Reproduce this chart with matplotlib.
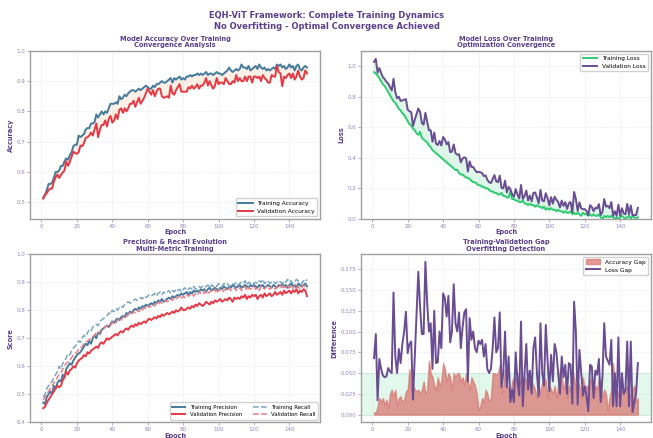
import numpy as np
import matplotlib
matplotlib.use("Agg")
import matplotlib.pyplot as plt

epochs = np.arange(1, 151)

train_acc = [
    0.515, 0.525, 0.54, 0.56, 0.56, 0.565, 0.58, 0.60, 0.60, 0.605,
    0.62, 0.62, 0.635, 0.645, 0.64, 0.655, 0.665, 0.685, 0.69, 0.69,
    0.72, 0.715, 0.72, 0.725, 0.74, 0.745, 0.745, 0.76, 0.76, 0.765,
    0.79, 0.78, 0.79, 0.80, 0.79, 0.80, 0.795, 0.81, 0.825, 0.825,
    0.825, 0.83, 0.825, 0.85, 0.84, 0.845, 0.855, 0.85, 0.86, 0.865,
    0.87, 0.87, 0.865, 0.87, 0.875, 0.87, 0.875, 0.88, 0.885, 0.88,
    0.875, 0.875, 0.885, 0.88, 0.89, 0.89, 0.895, 0.90, 0.895, 0.895,
    0.90, 0.905, 0.91, 0.895, 0.91, 0.905, 0.91, 0.915, 0.905, 0.91,
    0.905, 0.915, 0.915, 0.92, 0.915, 0.92, 0.92, 0.925, 0.92, 0.925,
    0.92, 0.925, 0.93, 0.92, 0.925, 0.925, 0.92, 0.925, 0.93, 0.925,
    0.925, 0.92, 0.925, 0.93, 0.935, 0.945, 0.935, 0.93, 0.935, 0.94,
    0.935, 0.94, 0.955, 0.945, 0.945, 0.94, 0.95, 0.935, 0.94, 0.945,
    0.95, 0.94, 0.955, 0.945, 0.94, 0.945, 0.935, 0.94, 0.935, 0.94,
    0.945, 0.94, 0.955, 0.95, 0.955, 0.945, 0.95, 0.94, 0.945, 0.955,
    0.945, 0.95, 0.935, 0.95, 0.955, 0.94, 0.935, 0.945, 0.95, 0.945,
]

acc_gap = [
    0.003, 0.002, 0.010, 0.020, 0.015, 0.020, 0.012, 0.018, 0.008, 0.025,
    0.030, 0.022, 0.030, 0.010, 0.020, 0.022, 0.015, 0.018, 0.028, 0.030,
    0.055, 0.028, 0.035, 0.030, 0.028, 0.030, 0.025, 0.030, 0.040, 0.025,
    0.030, 0.065, 0.050, 0.045, 0.035, 0.030, 0.045, 0.035, 0.040, 0.062,
    0.055, 0.040, 0.050, 0.045, 0.030, 0.050, 0.045, 0.050, 0.050, 0.040,
    0.045, 0.035, 0.050, 0.040, 0.030, 0.045, 0.040, 0.035, 0.025, 0.005,
    0.010, 0.020, 0.015, 0.030, 0.025, 0.015, 0.020, 0.050, 0.050, 0.048,
    0.050, 0.060, 0.025, 0.035, 0.055, 0.035, 0.030, 0.025, 0.040, 0.045,
    0.040, 0.050, 0.035, 0.045, 0.030, 0.045, 0.040, 0.035, 0.045, 0.040,
    0.035, 0.030, 0.020, 0.035, 0.025, 0.040, 0.045, 0.040, 0.020, 0.035,
    0.030, 0.025, 0.035, 0.020, 0.035, 0.055, 0.045, 0.030, 0.040, 0.020,
    0.035, 0.030, 0.055, 0.045, 0.030, 0.040, 0.035, 0.020, 0.045, 0.030,
    0.035, 0.030, 0.040, 0.045, 0.020, 0.035, 0.030, 0.045, 0.040, 0.020,
    0.030, 0.025, 0.005, 0.020, 0.030, 0.062, 0.035, 0.030, 0.025, 0.030,
    0.035, 0.025, 0.030, 0.035, 0.020, 0.025, 0.030, 0.035, 0.015, 0.020,
]

train_loss = [
    0.96, 0.95, 0.94, 0.92, 0.90, 0.88, 0.87, 0.85, 0.83, 0.81,
    0.79, 0.77, 0.76, 0.74, 0.72, 0.71, 0.69, 0.68, 0.66, 0.64,
    0.62, 0.61, 0.59, 0.58, 0.56, 0.55, 0.57, 0.53, 0.52, 0.51,
    0.50, 0.48, 0.47, 0.45, 0.44, 0.43, 0.42, 0.41, 0.40, 0.39,
    0.38, 0.37, 0.36, 0.35, 0.34, 0.33, 0.32, 0.32, 0.30, 0.29,
    0.29, 0.28, 0.27, 0.27, 0.26, 0.25, 0.24, 0.24, 0.23, 0.22,
    0.22, 0.21, 0.21, 0.20, 0.20, 0.19, 0.18, 0.18, 0.17, 0.17,
    0.16, 0.16, 0.17, 0.15, 0.15, 0.14, 0.14, 0.18, 0.13, 0.13,
    0.12, 0.12, 0.11, 0.11, 0.12, 0.10, 0.10, 0.09, 0.10, 0.09,
    0.09, 0.08, 0.09, 0.08, 0.08, 0.07, 0.08, 0.06, 0.07, 0.06,
    0.07, 0.06, 0.06, 0.05, 0.06, 0.05, 0.05, 0.04, 0.05, 0.04,
    0.04, 0.05, 0.03, 0.04, 0.03, 0.04, 0.03, 0.02, 0.04, 0.03,
    0.03, 0.02, 0.03, 0.02, 0.03, 0.02, 0.02, 0.03, 0.01, 0.00,
    0.02, 0.01, 0.02, 0.01, 0.02, 0.01, 0.00, 0.01, 0.00, 0.01,
    0.02, 0.01, 0.00, 0.01, 0.02, 0.00, 0.02, 0.01, 0.00, 0.01,
]

loss_gap = [
    0.068, 0.097, 0.017, 0.067, 0.055, 0.047, 0.045, 0.046, 0.056, 0.052,
    0.050, 0.147, 0.070, 0.050, 0.079, 0.062, 0.085, 0.100, 0.124, 0.074,
    0.085, 0.088, 0.018, 0.070, 0.125, 0.172, 0.130, 0.097, 0.097, 0.184,
    0.135, 0.100, 0.110, 0.055, 0.125, 0.062, 0.063, 0.100, 0.080, 0.146,
    0.140, 0.118, 0.143, 0.087, 0.100, 0.157, 0.110, 0.100, 0.123, 0.080,
    0.105, 0.123, 0.127, 0.040, 0.116, 0.090, 0.100, 0.080, 0.075, 0.089,
    0.085, 0.090, 0.070, 0.085, 0.055, 0.050, 0.055, 0.080, 0.117, 0.075,
    0.080, 0.123, 0.033, 0.050, 0.100, 0.033, 0.070, 0.015, 0.030, 0.015,
    0.075, 0.040, 0.023, 0.112, 0.010, 0.050, 0.085, 0.030, 0.053, 0.025,
    0.080, 0.093, 0.050, 0.022, 0.110, 0.050, 0.035, 0.108, 0.065, 0.028,
    0.072, 0.040, 0.085, 0.075, 0.050, 0.025, 0.070, 0.045, 0.060, 0.025,
    0.062, 0.060, 0.013, 0.136, 0.100, 0.012, 0.078, 0.050, 0.023, 0.034,
    0.022, 0.004, 0.060, 0.058, 0.020, 0.053, 0.048, 0.067, 0.015, 0.045,
    0.110, 0.070, 0.065, 0.060, 0.090, 0.010, 0.050, 0.010, 0.093, 0.010,
    0.050, 0.025, 0.030, 0.088, 0.010, 0.088, 0.003, 0.015, 0.025, 0.062,
]

train_prec = [
    0.47, 0.465, 0.49, 0.50, 0.51, 0.50, 0.53, 0.52, 0.54, 0.55,
    0.545, 0.57, 0.56, 0.59, 0.60, 0.61, 0.605, 0.62, 0.63, 0.64,
    0.645, 0.65, 0.66, 0.67, 0.68, 0.675, 0.69, 0.68, 0.70, 0.71,
    0.70, 0.72, 0.715, 0.73, 0.735, 0.74, 0.745, 0.74, 0.75, 0.76,
    0.755, 0.765, 0.77, 0.765, 0.775, 0.78, 0.775, 0.79, 0.785, 0.795,
    0.79, 0.80, 0.805, 0.80, 0.81, 0.805, 0.815, 0.81, 0.82, 0.815,
    0.82, 0.825, 0.82, 0.83, 0.825, 0.835, 0.83, 0.84, 0.83, 0.835,
    0.84, 0.845, 0.84, 0.85, 0.845, 0.85, 0.855, 0.85, 0.86, 0.855,
    0.86, 0.865, 0.855, 0.865, 0.86, 0.87, 0.865, 0.87, 0.865, 0.875,
    0.87, 0.875, 0.865, 0.875, 0.88, 0.87, 0.875, 0.88, 0.875, 0.87,
    0.88, 0.875, 0.885, 0.88, 0.875, 0.885, 0.88, 0.89, 0.885, 0.88,
    0.885, 0.89, 0.88, 0.885, 0.89, 0.885, 0.88, 0.89, 0.885, 0.89,
    0.885, 0.88, 0.89, 0.885, 0.89, 0.88, 0.885, 0.89, 0.885, 0.88,
    0.89, 0.885, 0.88, 0.89, 0.885, 0.895, 0.885, 0.89, 0.88, 0.89,
    0.895, 0.885, 0.89, 0.88, 0.895, 0.89, 0.885, 0.89, 0.895, 0.885,
]

train_rec = [
    0.49, 0.50, 0.52, 0.53, 0.54, 0.545, 0.56, 0.57, 0.58, 0.60,
    0.59, 0.61, 0.62, 0.63, 0.645, 0.64, 0.655, 0.665, 0.67, 0.68,
    0.69, 0.685, 0.70, 0.71, 0.705, 0.72, 0.73, 0.725, 0.74, 0.745,
    0.75, 0.745, 0.76, 0.765, 0.77, 0.775, 0.78, 0.79, 0.785, 0.80,
    0.795, 0.805, 0.80, 0.81, 0.815, 0.81, 0.82, 0.825, 0.83, 0.825,
    0.83, 0.835, 0.84, 0.835, 0.84, 0.845, 0.84, 0.85, 0.845, 0.85,
    0.855, 0.85, 0.855, 0.86, 0.85, 0.86, 0.865, 0.855, 0.865, 0.86,
    0.865, 0.87, 0.86, 0.87, 0.865, 0.875, 0.87, 0.875, 0.865, 0.875,
    0.88, 0.87, 0.875, 0.88, 0.875, 0.885, 0.875, 0.88, 0.885, 0.88,
    0.885, 0.88, 0.885, 0.89, 0.88, 0.89, 0.885, 0.89, 0.885, 0.895,
    0.89, 0.885, 0.895, 0.89, 0.895, 0.885, 0.89, 0.895, 0.89, 0.90,
    0.89, 0.895, 0.90, 0.895, 0.905, 0.89, 0.90, 0.895, 0.90, 0.895,
    0.90, 0.895, 0.905, 0.90, 0.91, 0.895, 0.90, 0.905, 0.895, 0.90,
    0.905, 0.895, 0.90, 0.905, 0.90, 0.895, 0.905, 0.90, 0.91, 0.90,
    0.905, 0.895, 0.90, 0.91, 0.905, 0.90, 0.895, 0.905, 0.90, 0.91,
]

val_prec = [
    0.45, 0.455, 0.47, 0.48, 0.49, 0.50, 0.51, 0.52, 0.53, 0.525,
    0.53, 0.55, 0.56, 0.58, 0.57, 0.585, 0.59, 0.60, 0.595, 0.61,
    0.62, 0.625, 0.63, 0.64, 0.635, 0.65, 0.645, 0.655, 0.66, 0.665,
    0.67, 0.665, 0.68, 0.685, 0.68, 0.69, 0.70, 0.695, 0.70, 0.705,
    0.71, 0.715, 0.71, 0.72, 0.725, 0.72, 0.73, 0.735, 0.73, 0.74,
    0.745, 0.74, 0.75, 0.745, 0.755, 0.75, 0.755, 0.76, 0.755, 0.765,
    0.77, 0.765, 0.77, 0.775, 0.77, 0.78, 0.775, 0.785, 0.78, 0.785,
    0.79, 0.785, 0.79, 0.795, 0.79, 0.80, 0.795, 0.80, 0.81, 0.80,
    0.80, 0.805, 0.81, 0.805, 0.815, 0.81, 0.82, 0.815, 0.825, 0.82,
    0.815, 0.82, 0.83, 0.825, 0.82, 0.83, 0.825, 0.835, 0.83, 0.835,
    0.84, 0.83, 0.835, 0.84, 0.835, 0.845, 0.84, 0.83, 0.845, 0.84,
    0.845, 0.84, 0.85, 0.845, 0.855, 0.84, 0.85, 0.845, 0.855, 0.85,
    0.855, 0.84, 0.85, 0.855, 0.845, 0.86, 0.85, 0.855, 0.86, 0.85,
    0.855, 0.865, 0.855, 0.86, 0.865, 0.855, 0.87, 0.86, 0.865, 0.87,
    0.86, 0.87, 0.865, 0.875, 0.86, 0.87, 0.865, 0.875, 0.87, 0.85,
]

val_rec = [
    0.48, 0.49, 0.50, 0.51, 0.52, 0.53, 0.54, 0.55, 0.56, 0.57,
    0.575, 0.59, 0.60, 0.61, 0.615, 0.62, 0.63, 0.64, 0.645, 0.65,
    0.66, 0.665, 0.67, 0.68, 0.685, 0.69, 0.695, 0.70, 0.705, 0.71,
    0.72, 0.715, 0.725, 0.73, 0.735, 0.74, 0.745, 0.75, 0.745, 0.755,
    0.76, 0.755, 0.765, 0.77, 0.765, 0.775, 0.78, 0.775, 0.785, 0.79,
    0.785, 0.795, 0.79, 0.80, 0.795, 0.805, 0.80, 0.81, 0.805, 0.815,
    0.81, 0.815, 0.82, 0.815, 0.825, 0.82, 0.83, 0.825, 0.83, 0.835,
    0.83, 0.835, 0.84, 0.835, 0.845, 0.84, 0.845, 0.85, 0.84, 0.85,
    0.845, 0.855, 0.85, 0.855, 0.86, 0.85, 0.86, 0.855, 0.865, 0.86,
    0.865, 0.86, 0.87, 0.86, 0.865, 0.87, 0.865, 0.875, 0.86, 0.87,
    0.875, 0.865, 0.87, 0.875, 0.87, 0.88, 0.87, 0.875, 0.88, 0.87,
    0.875, 0.88, 0.87, 0.875, 0.885, 0.87, 0.88, 0.875, 0.88, 0.885,
    0.875, 0.88, 0.87, 0.885, 0.88, 0.875, 0.885, 0.88, 0.875, 0.885,
    0.88, 0.875, 0.885, 0.88, 0.89, 0.875, 0.885, 0.88, 0.89, 0.88,
    0.885, 0.875, 0.89, 0.88, 0.885, 0.875, 0.88, 0.89, 0.88, 0.875,
]

train_acc = np.array(train_acc)
acc_gap = np.array(acc_gap)
val_acc = train_acc - acc_gap
train_loss = np.array(train_loss)
loss_gap = np.array(loss_gap)
val_loss = train_loss + loss_gap

BLUE = "#457b9d"
RED = "#e63946"
GREEN = "#2ecc71"
PURPLE = "#6a4c93"
TITLE_C = "#5b3f8c"
TICK_C = "#9384c0"


def style_axes(ax, title, ylabel):
    ax.set_title(title, fontsize=4.8, fontweight="bold", color=TITLE_C, pad=2.5, linespacing=1.05)
    ax.set_xlabel("Epoch", fontsize=4.8, fontweight="bold", color=TITLE_C, labelpad=0.5)
    ax.set_ylabel(ylabel, fontsize=4.8, fontweight="bold", color=TITLE_C, labelpad=2)
    ax.tick_params(labelsize=4.0, colors=TICK_C, length=2, width=0.5, pad=1.5)
    ax.grid(True, linestyle="--", linewidth=0.4, alpha=0.3)
    for sp in ax.spines.values():
        sp.set_color("#a0a0a0")
        sp.set_linewidth(1.0)


fig, axes = plt.subplots(2, 2, figsize=(6.53, 4.38), dpi=100)
fig.subplots_adjust(left=0.046, right=0.997, top=0.884, bottom=0.036, wspace=0.14, hspace=0.21)
fig.suptitle("EQH-ViT Framework: Complete Training Dynamics\nNo Overfitting - Optimal Convergence Achieved",
             fontsize=6.0, fontweight="bold", color=TITLE_C, y=0.976, linespacing=1.35)

# accuracy
ax = axes[0, 0]
ax.plot(epochs, train_acc, color=BLUE, lw=1.4, label="Training Accuracy")
ax.plot(epochs, val_acc, color=RED, lw=1.4, label="Validation Accuracy")
ax.fill_between(epochs, train_acc, val_acc, color="#f4a261", alpha=0.15)
ax.set_ylim(0.445, 1.0)
style_axes(ax, "Model Accuracy Over Training\nConvergence Analysis", "Accuracy")
ax.legend(loc="lower right", fontsize=4.2, framealpha=0.9, handlelength=2.5)

# loss
ax = axes[0, 1]
ax.plot(epochs, train_loss, color=GREEN, lw=1.4, label="Training Loss")
ax.plot(epochs, val_loss, color=PURPLE, lw=1.4, label="Validation Loss")
ax.fill_between(epochs, train_loss, val_loss, color=GREEN, alpha=0.15)
ax.set_ylim(0, 1.1)
style_axes(ax, "Model Loss Over Training\nOptimization Convergence", "Loss")
ax.legend(loc="upper right", fontsize=4.2, framealpha=0.9, handlelength=2.5)

# precision / recall
ax = axes[1, 0]
ax.plot(epochs, train_prec, color=BLUE, lw=1.4, label="Training Precision")
ax.plot(epochs, val_prec, color=RED, lw=1.4, label="Validation Precision")
ax.plot(epochs, train_rec, color="#7aa6c2", lw=1.1, ls="--", label="Training Recall")
ax.plot(epochs, val_rec, color="#f07a84", lw=1.1, ls="--", label="Validation Recall")
ax.set_ylim(0.4, 1.0)
style_axes(ax, "Precision & Recall Evolution\nMulti-Metric Training", "Score")
ax.legend(loc="lower right", fontsize=3.9, ncol=2, framealpha=0.9, handlelength=2.5)

# gap
ax = axes[1, 1]
ax.axhspan(0, 0.05, color=GREEN, alpha=0.13)
ax.fill_between(epochs, 0, acc_gap, color="#d9706c", alpha=0.7, label="Accuracy Gap")
ax.plot(epochs, loss_gap, color=PURPLE, lw=1.4, label="Loss Gap")
style_axes(ax, "Training-Validation Gap\nOverfitting Detection", "Difference")
ax.legend(loc="upper right", fontsize=4.2, framealpha=0.9, handlelength=2.5)

fig.savefig("out.png", dpi=100)
